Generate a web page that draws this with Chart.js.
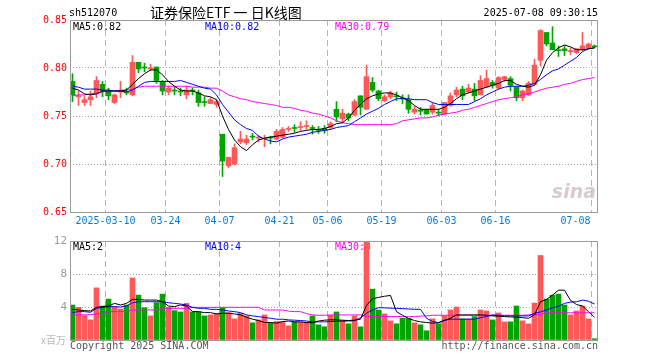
<!DOCTYPE html>
<html><head><meta charset="utf-8">
<script src="https://cdn.jsdelivr.net/npm/chart.js@4.4.1/dist/chart.umd.min.js"></script>
<style>
html,body{margin:0;padding:0;background:#fff;}
#wrap{position:relative;width:660px;height:360px;}
canvas{position:absolute;left:0;top:0;}
</style></head><body>
<div id="wrap"><canvas id="k" width="660" height="360"></canvas><canvas id="v" width="660" height="360"></canvas></div>
<script>
// ---- data (88 trading days, 2025-02-28 .. 2025-07-08) ----
const tickIndex  = [6, 16, 25, 35, 43, 52, 62, 71, 87];
const tickLabels = ['2025-03-10','03-24','04-07','04-21','05-06','05-19','06-03','06-16','07-08'];
const priceTicks = [0.65, 0.70, 0.75, 0.80, 0.85];
const volumeTicks = [0, 4, 8, 12];

const opens  = [0.786,0.770,0.764,0.767,0.773,0.783,0.776,0.764,0.775,0.775,
                0.772,0.806,0.801,0.799,0.801,0.785,0.775,0.777,0.776,0.772,
                0.777,0.774,0.765,0.763,0.762,0.731,0.698,0.700,0.723,0.722,
                0.729,0.727,0.726,0.728,0.726,0.728,0.736,0.738,0.738,0.739,
                0.738,0.736,0.737,0.738,0.757,0.747,0.752,0.751,0.771,0.757,
                0.785,0.776,0.766,0.770,0.771,0.769,0.767,0.754,0.756,0.756,
                0.754,0.754,0.752,0.761,0.772,0.778,0.775,0.778,0.772,0.780,
                0.785,0.779,0.788,0.789,0.780,0.769,0.772,0.783,0.808,0.837,
                0.826,0.819,0.820,0.817,0.816,0.820,0.821,0.823];
const highs  = [0.794,0.776,0.771,0.776,0.791,0.786,0.779,0.773,0.786,0.779,
                0.813,0.806,0.805,0.804,0.801,0.787,0.781,0.780,0.779,0.781,
                0.779,0.777,0.770,0.769,0.767,0.731,0.707,0.721,0.734,0.730,
                0.732,0.730,0.730,0.729,0.736,0.738,0.739,0.741,0.744,0.745,
                0.740,0.739,0.740,0.744,0.765,0.757,0.753,0.767,0.771,0.803,
                0.790,0.777,0.772,0.776,0.775,0.772,0.772,0.760,0.759,0.757,
                0.764,0.757,0.764,0.774,0.780,0.781,0.783,0.784,0.792,0.798,
                0.787,0.791,0.791,0.791,0.781,0.777,0.786,0.809,0.840,0.837,
                0.843,0.823,0.823,0.821,0.820,0.837,0.826,0.824];
const lows   = [0.765,0.761,0.761,0.761,0.769,0.770,0.767,0.763,0.769,0.772,
                0.771,0.795,0.796,0.797,0.784,0.772,0.772,0.772,0.771,0.768,
                0.772,0.760,0.760,0.763,0.759,0.687,0.696,0.699,0.721,0.720,
                0.725,0.723,0.718,0.721,0.725,0.727,0.734,0.733,0.735,0.736,
                0.731,0.732,0.732,0.736,0.744,0.743,0.745,0.750,0.751,0.757,
                0.775,0.766,0.765,0.768,0.766,0.763,0.753,0.752,0.751,0.752,
                0.752,0.750,0.752,0.760,0.770,0.767,0.774,0.766,0.772,0.780,
                0.779,0.778,0.786,0.776,0.766,0.766,0.771,0.783,0.802,0.823,
                0.819,0.812,0.813,0.814,0.815,0.818,0.820,0.821];
const closes = [0.772,0.771,0.767,0.770,0.787,0.776,0.771,0.772,0.776,0.774,
                0.806,0.799,0.800,0.800,0.787,0.776,0.779,0.776,0.775,0.777,
                0.776,0.764,0.764,0.767,0.765,0.703,0.707,0.717,0.726,0.726,
                0.728,0.728,0.727,0.727,0.734,0.736,0.737,0.737,0.739,0.740,
                0.737,0.735,0.735,0.742,0.749,0.753,0.748,0.765,0.759,0.791,
                0.777,0.768,0.770,0.774,0.770,0.768,0.757,0.757,0.755,0.752,
                0.761,0.753,0.764,0.771,0.777,0.771,0.779,0.771,0.787,0.789,
                0.782,0.790,0.791,0.782,0.769,0.776,0.784,0.803,0.839,0.825,
                0.819,0.818,0.818,0.818,0.820,0.823,0.825,0.822];

const ma5  = [0.779,0.777,0.773,0.772,0.773,0.776,0.776,0.776,0.776,0.777,
              0.783,0.789,0.794,0.798,0.798,0.793,0.786,0.781,0.777,0.776,
              0.776,0.774,0.771,0.770,0.767,0.750,0.736,0.725,0.718,0.714,
              0.720,0.725,0.727,0.728,0.729,0.730,0.731,0.732,0.734,0.735,
              0.736,0.736,0.737,0.739,0.742,0.743,0.748,0.756,0.762,0.768,
              0.771,0.773,0.774,0.774,0.772,0.769,0.766,0.761,0.757,0.757,
              0.757,0.757,0.759,0.763,0.768,0.772,0.774,0.776,0.778,0.780,
              0.782,0.784,0.787,0.787,0.783,0.781,0.780,0.782,0.793,0.808,
              0.816,0.821,0.824,0.822,0.819,0.819,0.820,0.821];
const ma10 = [0.781,0.780,0.778,0.778,0.778,0.777,0.777,0.776,0.776,0.775,
              0.777,0.781,0.785,0.786,0.786,0.786,0.786,0.786,0.787,0.785,
              0.783,0.781,0.779,0.778,0.772,0.762,0.754,0.746,0.741,0.737,
              0.735,0.729,0.726,0.724,0.723,0.726,0.728,0.729,0.730,0.731,
              0.733,0.734,0.735,0.736,0.738,0.739,0.740,0.744,0.748,0.752,
              0.755,0.758,0.762,0.765,0.768,0.768,0.768,0.767,0.767,0.767,
              0.764,0.762,0.762,0.762,0.762,0.762,0.762,0.765,0.768,0.772,
              0.775,0.778,0.780,0.781,0.781,0.781,0.782,0.784,0.788,0.793,
              0.797,0.799,0.803,0.807,0.811,0.817,0.820,0.821];
const ma30 = [0.771,0.772,0.772,0.773,0.774,0.775,0.776,0.776,0.777,0.777,
              0.778,0.780,0.781,0.781,0.781,0.781,0.781,0.781,0.781,0.781,
              0.780,0.780,0.780,0.779,0.779,0.776,0.772,0.770,0.768,0.767,
              0.765,0.764,0.763,0.762,0.761,0.759,0.759,0.758,0.756,0.755,
              0.753,0.752,0.750,0.748,0.745,0.743,0.742,0.741,0.741,0.741,
              0.741,0.741,0.741,0.741,0.742,0.745,0.746,0.747,0.748,0.748,
              0.749,0.751,0.752,0.753,0.754,0.756,0.757,0.759,0.761,0.763,
              0.765,0.767,0.768,0.769,0.770,0.772,0.773,0.775,0.777,0.779,
              0.780,0.781,0.783,0.784,0.786,0.788,0.789,0.790];

// volume in millions
const volumes = [4.24,3.96,2.96,2.44,6.32,4.12,4.96,4.04,3.76,4.24,
                 7.52,5.44,3.92,2.92,4.52,5.56,3.96,3.56,3.40,4.44,
                 3.40,3.40,2.92,3.04,3.24,3.92,3.32,2.56,3.24,2.92,
                 2.08,2.44,3.04,2.08,2.24,2.20,1.72,2.20,2.16,2.16,
                 2.92,1.84,1.60,3.00,3.40,2.36,1.96,2.92,1.60,11.9,
                 6.16,3.64,3.16,2.32,1.96,2.64,2.64,2.08,1.84,1.12,
                 2.56,1.96,2.92,3.64,4.00,2.56,2.56,2.84,3.64,3.52,
                 2.44,3.28,2.20,2.20,4.12,2.32,1.96,4.48,10.24,4.96,
                 5.44,5.56,4.24,3.04,3.52,4.12,2.56,0.16];
const vma5  = [3.72,3.64,3.56,3.52,3.96,4.04,4.12,4.44,4.24,4.44,
               4.92,4.92,4.84,4.84,4.84,4.64,4.12,4.04,4.24,4.12,
               3.44,3.44,3.32,3.32,3.16,3.24,3.24,3.16,3.04,2.76,
               2.52,2.36,2.12,2.12,2.04,2.24,2.30,2.20,2.20,2.10,
               2.10,2.30,2.40,2.44,2.44,2.40,2.36,2.40,2.52,4.20,
               5.00,5.16,5.30,5.40,3.44,3.00,2.60,2.36,2.20,2.12,
               2.04,2.08,2.40,2.64,3.04,3.04,3.04,3.04,3.04,3.00,
               2.92,2.88,2.84,2.80,2.76,2.70,2.64,3.04,4.64,4.92,
               5.44,6.04,6.04,4.80,4.30,4.12,3.44,2.76];
const vma10 = [3.32,3.44,3.44,3.36,3.84,3.96,4.04,4.04,4.00,4.12,
               4.52,4.64,4.64,4.64,4.64,4.64,4.52,4.44,4.36,4.24,
               3.96,3.84,3.84,3.72,3.72,3.64,3.52,3.44,3.32,3.04,
               2.92,2.84,2.72,2.64,2.52,2.52,2.44,2.40,2.36,2.30,
               2.20,2.20,2.20,2.24,2.26,2.28,2.30,2.34,2.70,3.24,
               3.64,3.92,3.90,3.86,3.84,3.80,3.76,3.72,3.72,2.64,
               2.24,2.12,2.36,2.52,2.52,2.52,2.52,2.52,2.70,2.84,
               3.04,3.00,2.92,2.92,2.92,2.92,2.92,3.24,3.40,3.64,
               3.90,4.10,4.44,4.60,4.64,4.84,4.70,4.36];
const vma30 = [3.04,3.04,3.04,3.08,3.16,3.20,3.44,3.44,3.44,3.44,
               3.64,3.64,3.64,3.64,3.64,3.84,3.84,3.84,3.84,3.84,
               3.96,3.96,3.96,3.96,3.96,3.96,3.96,3.96,3.96,3.96,
               3.96,3.96,3.64,3.64,3.64,3.64,3.50,3.44,3.44,3.20,
               3.04,3.00,3.00,3.04,3.04,3.04,3.04,3.04,3.04,2.84,
               2.84,2.84,2.84,2.84,2.84,2.84,2.84,2.84,2.90,2.92,
               3.00,3.00,3.00,3.00,3.00,3.00,3.00,3.00,3.00,3.00,
               3.00,3.00,3.00,3.00,3.00,3.00,3.04,3.10,3.10,3.30,
               3.30,3.30,3.30,3.30,3.30,3.30,3.30,3.30];

// ---- styling ----
const RED = '#ff5858', GREEN = '#00a400';
const MONO = '10px "DejaVu Sans Mono", "Liberation Mono", monospace';
const idx = opens.map((_, i) => i);
const up = idx.map(i => closes[i] >= opens[i]);
const barColor = idx.map(i => up[i] ? RED : GREEN);
const XMIN = -2.5 / 6, XMAX = XMIN + 88;

function txt(ctx, s, x, y, color, font, align, base) {
  ctx.save();
  ctx.fillStyle = color; ctx.font = font || MONO;
  ctx.textAlign = align || 'left'; ctx.textBaseline = base || 'middle';
  ctx.fillText(s, x, y); ctx.restore();
}
function frame(chart) {
  const a = chart.chartArea, ctx = chart.ctx;
  ctx.save(); ctx.strokeStyle = '#9a9a9a'; ctx.lineWidth = 1;
  ctx.strokeRect(Math.round(a.left) + 0.5, Math.round(a.top) + 0.5,
                 Math.round(a.right - a.left) - 1, Math.round(a.bottom - a.top));
  ctx.restore();
}
function xScale() {
  return {
    type: 'linear', min: XMIN, max: XMAX, offset: false,
    afterBuildTicks: s => { s.ticks = tickIndex.map(v => ({ value: v - 0.5 })); },
    afterFit: s => { s.height = 0; },
    ticks: { display: false },
    grid: { color: '#b4b4b4', drawTicks: false, offset: false },
    border: { display: false, dash: [6, 4] }
  };
}
function lineDs(data, color) {
  return { type: 'line', data: data.map((v, i) => ({ x: i, y: v })), borderColor: color,
           borderWidth: 1, pointRadius: 0, tension: 0, fill: false, order: 0 };
}

// ---- price chart ----
const kPlugin = {
  id: 'kdeco',
  beforeDatasetsDraw(chart) {
    const ctx = chart.ctx;
    txt(ctx, 'sina', 596, 198, 'rgba(205,190,190,0.8)', 'italic bold 19px "DejaVu Sans", sans-serif', 'right', 'alphabetic');
  },
  afterDraw(chart) {
    const ctx = chart.ctx, a = chart.chartArea, xs = chart.scales.x;
    frame(chart);
    txt(ctx, 'sh512070', 69, 13, '#000');
    txt(ctx, '证券保险ETF 一 日K线图', 150, 13, '#000', '14px "Noto Sans CJK SC", sans-serif');
    txt(ctx, '2025-07-08 09:30:15', 598, 13, '#000', MONO, 'right');
    txt(ctx, 'MA5:' + ma5[ma5.length - 1].toFixed(2), 73, 27, '#000');
    txt(ctx, 'MA10:' + ma10[ma10.length - 1].toFixed(2), 205, 27, '#0000ff');
    txt(ctx, 'MA30:' + ma30[ma30.length - 1].toFixed(2), 335, 27, '#ff00ff');
    ctx.save(); ctx.font = MONO;
    tickIndex.forEach((t, k) => {
      const px = xs.getPixelForValue(t - 0.5), w = ctx.measureText(tickLabels[k]).width;
      if (px + w / 2 > a.right) txt(ctx, tickLabels[k], px - 1, 221, '#0a7ad0', MONO, 'right');
      else txt(ctx, tickLabels[k], px, 221, '#0a7ad0', MONO, 'center');
    });
    ctx.restore();
  }
};

new Chart(document.getElementById('k'), {
  type: 'bar',
  data: {
    datasets: [
      lineDs(ma5, '#000000'), lineDs(ma10, '#0000ff'), lineDs(ma30, '#ff00ff'),
      { type: 'bar', data: idx.map(i => ({ x: i, y: [opens[i], closes[i]] })),
        backgroundColor: barColor, barThickness: 5, grouped: false, minBarLength: 1, order: 1 },
      { type: 'bar', data: idx.map(i => ({ x: i, y: [lows[i], highs[i]] })),
        backgroundColor: barColor, barThickness: 1, grouped: false, minBarLength: 1, order: 2 }
    ]
  },
  options: {
    responsive: false, animation: false, devicePixelRatio: 1,
    layout: { padding: { top: 20, bottom: 148, left: 0, right: 62 } },
    plugins: { legend: { display: false }, tooltip: { enabled: false } },
    scales: {
      x: xScale(),
      y: {
        type: 'linear', min: 0.65, max: 0.85, position: 'left',
        afterBuildTicks: s => { s.ticks = priceTicks.map(v => ({ value: v })); },
        afterFit: s => { s.width = 70; },
        ticks: { color: '#ff0000', font: { family: '"DejaVu Sans Mono", monospace', size: 10 },
                 padding: 3, callback: v => Number(v).toFixed(2) },
        grid: { drawTicks: false,
                color: c => (c.tick && c.tick.value > 0.66 && c.tick.value < 0.84) ? '#a8a8a8' : 'rgba(0,0,0,0)' },
        border: { display: false, dash: [1, 2] }
      }
    }
  },
  plugins: [kPlugin]
});

// ---- volume chart ----
const vPlugin = {
  id: 'vdeco',
  beforeDatasetsDraw(chart) {
    const ctx = chart.ctx;
    txt(ctx, 'MA5:' + Math.floor(vma5[vma5.length - 1]), 73, 247, '#000');
    txt(ctx, 'MA10:' + Math.floor(vma10[vma10.length - 1]), 205, 247, '#0000ff');
    txt(ctx, 'MA30:' + Math.floor(vma30[vma30.length - 1]), 335, 247, '#ff00ff');
  },
  afterDraw(chart) {
    const ctx = chart.ctx;
    frame(chart);
    txt(ctx, 'x百万', 66, 340, '#b8b8b8', '10px "Noto Sans CJK SC", sans-serif', 'right');
    txt(ctx, 'Copyright 2025 SINA.COM', 70, 346, '#555', MONO);
    txt(ctx, 'http://finance.sina.com.cn', 598, 346, '#555', MONO, 'right');
  }
};

new Chart(document.getElementById('v'), {
  type: 'bar',
  data: {
    datasets: [
      lineDs(vma5, '#000000'), lineDs(vma10, '#0000ff'), lineDs(vma30, '#ff00ff'),
      { type: 'bar', data: idx.map(i => ({ x: i, y: volumes[i] })),
        backgroundColor: barColor, barThickness: 5, grouped: false, order: 1 }
    ]
  },
  options: {
    responsive: false, animation: false, devicePixelRatio: 1,
    layout: { padding: { top: 241, bottom: 20, left: 0, right: 62 } },
    plugins: { legend: { display: false }, tooltip: { enabled: false } },
    scales: {
      x: xScale(),
      y: {
        type: 'linear', min: 0, max: 12, position: 'left',
        afterBuildTicks: s => { s.ticks = volumeTicks.map(v => ({ value: v })); },
        afterFit: s => { s.width = 70; },
        ticks: { color: '#9a9a9a', font: { family: '"DejaVu Sans Mono", monospace', size: 11 },
                 padding: 3, callback: v => (v === 0 ? '' : String(v)) },
        grid: { drawTicks: false,
                color: c => (c.tick && c.tick.value > 0 && c.tick.value < 12) ? '#a8a8a8' : 'rgba(0,0,0,0)' },
        border: { display: false, dash: [1, 2] }
      }
    }
  },
  plugins: [vPlugin]
});
</script>
</body></html>
